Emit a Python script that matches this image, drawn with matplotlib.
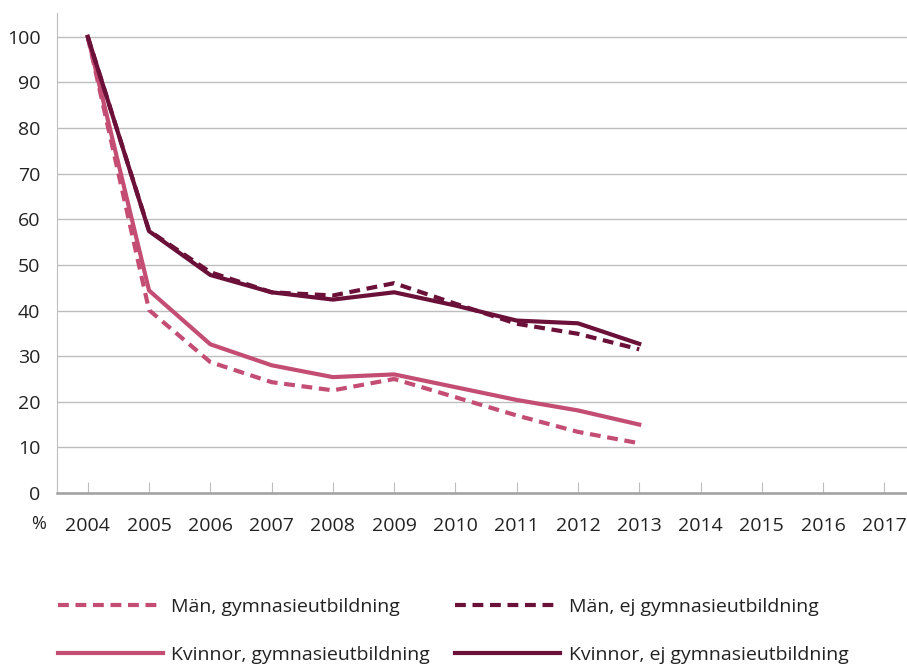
import matplotlib.pyplot as plt
import numpy as np

plt.rcParams['font.family'] = ['Open Sans', 'DejaVu Sans']

# Data
years = ['2004', '2005', '2006', '2007', '2008', '2009', '2010',
         '2011', '2012', '2013', '2014', '2015', '2016', '2017']
man_gymn = [100, 40.1, 28.7, 24.3, 22.5, 25.0, 21.0, 17.0, 13.4, 10.9]
kvinnor_gymn = [100, 44.4, 32.6, 28.0, 25.4, 26.0, 23.2, 20.4, 18.1, 15.0]
man_ej = [100, 57.5, 48.4, 44.0, 43.3, 46.0, 41.5, 37.1, 34.9, 31.5]
kvinnor_ej = [100, 57.4, 47.8, 44.0, 42.4, 44.0, 41.1, 37.8, 37.2, 32.7]

pink = '#C44D74'
dark = '#6B1038'
grid_col = '#BDBDBD'

fig = plt.figure(figsize=(9.07, 6.68), dpi=100)
ax = fig.add_axes([0.063, 0.262, 0.937, 0.719])

x = np.arange(len(years))
n = len(man_gymn)
lw = 3
ax.plot(x[:n], man_gymn, color=pink, lw=lw, dashes=(2.6, 1.6),
        label='Män, gymnasieutbildning')
ax.plot(x[:n], kvinnor_gymn, color=pink, lw=lw,
        label='Kvinnor, gymnasieutbildning')
ax.plot(x[:n], man_ej, color=dark, lw=lw, dashes=(2.6, 1.6),
        label='Män, ej gymnasieutbildning')
ax.plot(x[:n], kvinnor_ej, color=dark, lw=lw,
        label='Kvinnor, ej gymnasieutbildning')

ax.set_xlim(-0.5, 13.37)
ax.set_ylim(0, 105.3)
ax.set_yticks(np.arange(0, 101, 10))
ax.set_xticks(x)
ax.set_xticklabels(years)
ax.yaxis.grid(True, color=grid_col, lw=1)
ax.set_axisbelow(True)

for s in ['top', 'right']:
    ax.spines[s].set_visible(False)
ax.spines['left'].set_color(grid_col)
ax.spines['bottom'].set_color('#A0A0A0')
ax.spines['bottom'].set_linewidth(1.8)

ax.tick_params(axis='y', length=0, labelsize=14, colors='#222222', pad=12)
ax.tick_params(axis='x', direction='in', length=8, color=grid_col,
               labelsize=14, labelcolor='#222222', pad=17)

fig.text(0.042, 0.215, '%', fontsize=13, color='#222222', ha='center', va='center')

fig.legend(loc='upper left', bbox_to_anchor=(0.055, 0.117), ncol=2,
           frameon=False, fontsize=14, handlelength=5.4, handletextpad=0.45,
           columnspacing=1.3, labelspacing=1.55, borderaxespad=0,
           labelcolor='#222222')

fig.savefig('out.png', dpi=100)
